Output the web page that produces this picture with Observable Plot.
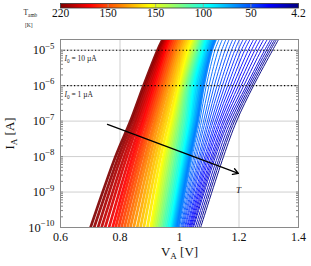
<!DOCTYPE html>
<html><head><meta charset="utf-8">
<script src="https://cdn.jsdelivr.net/npm/d3@7"></script>
<script src="https://cdn.jsdelivr.net/npm/@observablehq/plot@0.6"></script>
<style>
body{margin:0;background:#fff;}
#chart{width:311px;height:266px;overflow:hidden;font-family:"Liberation Serif",serif;}
#chart svg{display:block;}
</style></head><body><div id="chart"></div>
<script>
// Current levels (A) at which each curve's voltage was read
const currents = [1e-10, 1e-8, 1e-7, 1e-6, 1e-5, 2e-5];
// Voltage V_A (V) of each curve (hot -> cold) at each current level
const vAt1e10 = [0.701,0.713,0.726,0.738,0.750,0.763,0.775,0.785,0.795,0.805,0.815,0.825,0.835,0.846,0.858,0.869,0.880,0.892,0.903,0.909,0.914,0.920,0.925,0.931,0.936,0.942,0.947,0.953,0.959,0.964,0.970,0.974,0.978,0.981,0.985,0.989,0.993,1.000,1.007,1.013,1.020,1.027,1.034,1.040,1.047,1.053,1.059,1.065,1.071];
const vAt1e8 = [0.785,0.795,0.804,0.814,0.823,0.833,0.842,0.850,0.859,0.867,0.875,0.884,0.892,0.901,0.910,0.919,0.928,0.937,0.946,0.952,0.957,0.963,0.969,0.974,0.980,0.986,0.991,0.997,1.002,1.008,1.013,1.017,1.021,1.025,1.029,1.033,1.037,1.048,1.058,1.069,1.079,1.090,1.100,1.111,1.121,1.128,1.135,1.141,1.148];
const vAt1e7 = [0.835,0.842,0.850,0.857,0.864,0.872,0.879,0.886,0.894,0.901,0.908,0.916,0.923,0.931,0.940,0.948,0.956,0.965,0.973,0.978,0.983,0.988,0.993,0.998,1.003,1.008,1.013,1.019,1.024,1.029,1.034,1.039,1.043,1.048,1.052,1.057,1.061,1.074,1.087,1.100,1.113,1.126,1.139,1.152,1.165,1.172,1.179,1.185,1.192];
const vAt1e6 = [0.879,0.885,0.891,0.898,0.904,0.910,0.916,0.923,0.929,0.936,0.943,0.949,0.956,0.963,0.971,0.978,0.985,0.993,1.000,1.004,1.008,1.012,1.016,1.020,1.024,1.028,1.033,1.037,1.041,1.046,1.050,1.055,1.060,1.066,1.071,1.076,1.081,1.099,1.117,1.135,1.153,1.171,1.189,1.207,1.225,1.231,1.237,1.243,1.249];
const vAt1e5 = [0.926,0.931,0.935,0.940,0.944,0.949,0.953,0.959,0.965,0.972,0.978,0.984,0.990,0.997,1.003,1.010,1.017,1.023,1.030,1.035,1.039,1.044,1.048,1.053,1.057,1.061,1.065,1.069,1.073,1.077,1.081,1.086,1.090,1.095,1.099,1.104,1.108,1.130,1.153,1.175,1.197,1.219,1.242,1.264,1.286,1.293,1.300,1.306,1.313];
const vAt2e5 = [0.943,0.947,0.951,0.955,0.958,0.962,0.966,0.972,0.978,0.985,0.991,0.997,1.003,1.010,1.017,1.023,1.030,1.037,1.044,1.048,1.052,1.055,1.059,1.063,1.067,1.071,1.075,1.079,1.083,1.087,1.091,1.096,1.101,1.106,1.111,1.116,1.121,1.144,1.167,1.190,1.214,1.237,1.260,1.283,1.306,1.313,1.320,1.326,1.333];
// Extra low-temperature curves in the light-blue fan (colour-bar position and voltages)
const fanShade = [0.760,0.781,0.802,0.823,0.844,0.865,0.885,0.906];
const fanAt1e10 = [0.997,1.004,1.010,1.017,1.024,1.031,1.037,1.044];
const fanAt1e8 = [1.043,1.053,1.064,1.074,1.085,1.095,1.106,1.116];
const fanAt1e7 = [1.068,1.081,1.094,1.107,1.120,1.133,1.146,1.159];
const fanAt1e6 = [1.090,1.108,1.126,1.144,1.162,1.180,1.198,1.216];
const fanAt1e5 = [1.119,1.142,1.164,1.186,1.208,1.231,1.253,1.275];
const fanAt2e5 = [1.133,1.156,1.179,1.202,1.226,1.249,1.272,1.295];

// Colour bar (T_amb) tick labels, as printed
const tempLabels = ["220","150","150","100","50","4.2"];
const cbTickPos = [0, 0.2, 0.4, 0.6, 0.8, 1];
// Axes
const xTicks = [0.6, 0.8, 1, 1.2, 1.4];
const yTicks = [1e-10, 1e-9, 1e-8, 1e-7, 1e-6, 1e-5];
const yDomain = [1e-10, 2e-5];
// Reference currents I0
const refLevels = [1e-5, 1e-6];
const refLabels = ["~{I}_{0} = 10 µA", "~{I}_{0} = 1 µA"];
// Temperature arrow annotation
const arrowFrom = {V: 0.758, I: 8.1e-8};
const arrowTo = {V: 1.198, I: 3.35e-9};
const arrowLabel = {V: 1.198, I: 1.1e-9, text: "T"};

const levelArrays = [vAt1e10, vAt1e8, vAt1e7, vAt1e6, vAt1e5, vAt2e5];
const fanArrays = [fanAt1e10, fanAt1e8, fanAt1e7, fanAt1e6, fanAt1e5, fanAt2e5];
const nCurves = vAt1e10.length;
const curves = [];
for (let i = 0; i < nCurves; i++) curves.push({f: i / (nCurves - 1), pts: levelArrays.map(a => a[i])});
fanShade.forEach((f, k) => curves.push({f, pts: fanArrays.map(a => a[k])}));
curves.sort((a, b) => a.f - b.f);
const rows = [];
curves.forEach((c, id) => currents.forEach((I, j) => rows.push({curve: id, f: c.f, V: c.pts[j], I})));

const jet = d3.scaleLinear()
  .domain([0, 0.125, 0.375, 0.625, 0.875, 1])
  .range(["#000080", "#0000ff", "#00ffff", "#ffff00", "#ff0000", "#800000"])
  .interpolate(d3.interpolateRgb);
const colorOf = f => jet(1 - f);

const minorTicks = d3.scaleLog().domain(yDomain).ticks();
const font = "Liberation Serif";

const cbMark = Plot.raster
  ? Plot.raster({fill: (x, y) => x, x1: cbTickPos[0], x2: cbTickPos[cbTickPos.length - 1], y1: 0, y2: 1, width: 238, height: 2, imageRendering: "auto"})
  : Plot.rect(d3.range(nCurves).map(i => i / (nCurves - 1)), {x1: d => d - 0.5 / (nCurves - 1), x2: d => d + 0.5 / (nCurves - 1), y1: 0, y2: 1, fill: d => d});

const colorbar = Plot.plot({
  width: 311, height: 28,
  marginLeft: 60, marginRight: 13, marginTop: 3, marginBottom: 20.5,
  style: {fontFamily: font, background: "white", overflow: "visible"},
  x: {domain: [0, 1], axis: null},
  y: {domain: [0, 1], axis: null},
  color: {type: "linear", domain: [0, 1], interpolate: colorOf},
  marks: [
    cbMark,
    Plot.ruleX(cbTickPos.slice(1, -1), {stroke: "#9a9a9a", strokeWidth: 0.8}),
    Plot.frame({stroke: "#333", strokeWidth: 0.8}),
    Plot.text(cbTickPos, {x: d => d, text: (d, i) => tempLabels[i], frameAnchor: "bottom", dy: 9, fontSize: 11.5, fill: "#111"}),
    Plot.text(["T_{amb}"], {frameAnchor: "left", dx: -37, dy: 7.2, textAnchor: "start", fontSize: 7.5, fill: "#222"}),
    Plot.text(["[K]"], {frameAnchor: "left", dx: -35.5, dy: 19.2, textAnchor: "start", fontSize: 5.5, fill: "#222"})
  ]
});

const main = Plot.plot({
  width: 311, height: 238,
  marginLeft: 60, marginRight: 13, marginTop: 11, marginBottom: 39,
  style: {fontFamily: font, background: "white", overflow: "visible"},
  x: {domain: [0.6, 1.4]},
  y: {type: "log", domain: yDomain},
  color: {type: "linear", domain: [0, 1], interpolate: colorOf},
  marks: [
    Plot.gridX(xTicks, {stroke: "#cfcfcf", strokeOpacity: 1}),
    Plot.gridY(yTicks, {stroke: "#cfcfcf", strokeOpacity: 1}),
    Plot.line(rows, {x: "V", y: "I", z: "curve", stroke: "f", strokeWidth: d => d.f < 0.755 ? 2.7 : 1.0, strokeOpacity: 0.92, curve: "catmull-rom", clip: true}),
    Plot.ruleY(refLevels, {stroke: "#000", strokeWidth: 1.1, strokeDasharray: "1.2,2.3"}),
    Plot.text(refLevels, {y: d => d, text: (d, i) => refLabels[i], frameAnchor: "left", dx: 4, dy: 8.5, textAnchor: "start", fontSize: 7.5, fill: "#222"}),
    Plot.arrow([{a: arrowFrom, b: arrowTo}], {x1: d => d.a.V, y1: d => d.a.I, x2: d => d.b.V, y2: d => d.b.I, stroke: "#000", strokeWidth: 1.3, headLength: 7}),
    Plot.text([arrowLabel], {x: "V", y: "I", text: "text", fontStyle: "italic", fontSize: 9, fill: "#111"}),
    Plot.axisY({ticks: minorTicks, tickSize: 3, dx: 3, tickFormat: () => "", label: null, stroke: "#888"}),
    Plot.axisY({ticks: minorTicks, anchor: "right", tickSize: 3, dx: -3, tickFormat: () => "", label: null, stroke: "#888"}),
    Plot.axisY({ticks: yTicks, tickSize: 0, tickPadding: 6, fontSize: 12.5, label: null, fill: "#111",
      tickFormat: d => `10^{−${-Math.round(Math.log10(d))}}`}),
    Plot.axisX({ticks: xTicks, tickSize: 0, tickPadding: 5, fontSize: 12, label: null, fill: "#111", tickFormat: d => String(d)}),
    Plot.frame({stroke: "#8a8a8a"}),
    Plot.text(["I_{A} [A]"], {frameAnchor: "left", dx: -51, rotate: -90, textAnchor: "middle", fontSize: 13, fill: "#111"}),
    Plot.text(["V_{A} [V]"], {frameAnchor: "bottom", dy: 28, textAnchor: "middle", fontSize: 13, fill: "#111"})
  ]
});

const root = document.getElementById("chart");
root.appendChild(colorbar);
root.appendChild(main);

function rich(svg) {
  svg.querySelectorAll("text").forEach(t => {
    const s = t.textContent;
    if (!/[_^~]\{/.test(s)) return;
    const fs = parseFloat(getComputedStyle(t).fontSize) || 12;
    while (t.firstChild) t.removeChild(t.firstChild);
    const add = (str, attrs) => {
      const ts = document.createElementNS("http://www.w3.org/2000/svg", "tspan");
      ts.textContent = str;
      for (const k in attrs) ts.setAttribute(k, attrs[k]);
      t.appendChild(ts);
    };
    const re = /([_^~])\{([^}]*)\}/g;
    let last = 0, m, off = 0;
    while ((m = re.exec(s))) {
      if (m.index > last) { add(s.slice(last, m.index), off ? {dy: -off} : {}); off = 0; }
      if (m[1] === "~") { add(m[2], Object.assign({"font-style": "italic"}, off ? {dy: -off} : {})); off = 0; }
      else {
        const d = m[1] === "_" ? 0.28 * fs : -0.42 * fs;
        add(m[2], {"font-size": (0.7 * fs) + "px", dy: d - off});
        off = d;
      }
      last = re.lastIndex;
    }
    if (last < s.length) add(s.slice(last), off ? {dy: -off} : {});
  });
}
rich(colorbar);
rich(main);
</script></body></html>
